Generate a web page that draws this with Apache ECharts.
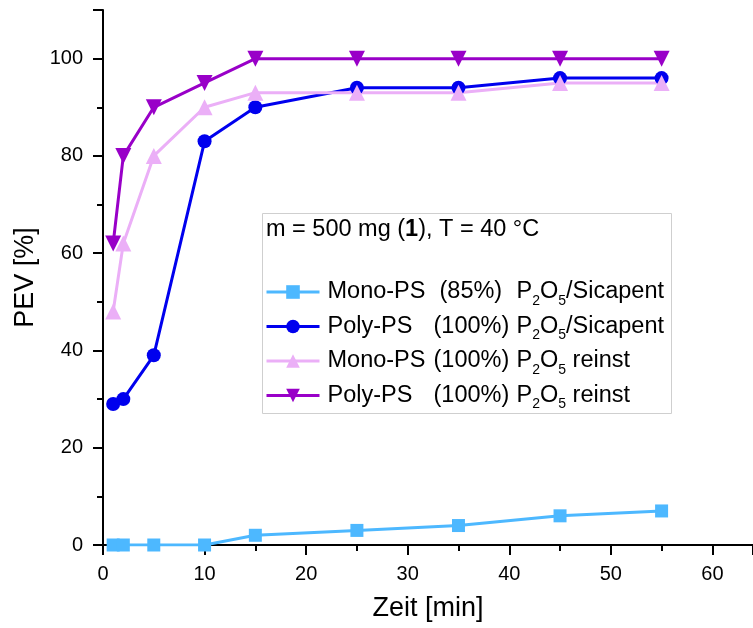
<!DOCTYPE html>
<html><head><meta charset="utf-8">
<script src="https://cdn.jsdelivr.net/npm/echarts@6/dist/echarts.min.js"></script>
<style>html,body{margin:0;padding:0;background:#fff}#c{width:753px;height:628px}</style>
</head><body><div id="c"></div>
<script>
const times = [1, 2, 5, 10, 15, 25, 35, 45, 55];
const monoSicapent = [0, 0, 0, 0, 2, 3, 4, 6, 7];
const polySicapent = [29, 30, 39, 83, 90, 94, 94, 96, 96];
const monoReinst = [48, 62, 80, 90, 93, 93, 93, 95, 95];
const polyReinst = [62, 80, 90, 95, 100, 100, 100, 100, 100];
const seriesNames = ['mono85', 'poly100s', 'mono100r', 'poly100r'];

const F = '"Liberation Sans", Arial, sans-serif';
const pair = (ys) => times.map((t, i) => [t, ys[i]]);

const labels = {
  mono85: '{n|Mono-PS}{q|(85%)}{t|P}{s|2}{t|O}{s|5}{t|/Sicapent}',
  poly100s: '{n|Poly-PS}{p|(100%)}{t|P}{s|2}{t|O}{s|5}{t|/Sicapent}',
  mono100r: '{n|Mono-PS}{p|(100%)}{t|P}{s|2}{t|O}{s|5}{t| reinst}',
  poly100r: '{n|Poly-PS}{p|(100%)}{t|P}{s|2}{t|O}{s|5}{t| reinst}'
};

function mk(name, data, color, symbol, size, rot) {
  return {
    name: name, type: 'line', data: pair(data), symbol: symbol, symbolSize: size,
    symbolRotate: rot || 0,
    lineStyle: { color: color, width: 3 },
    itemStyle: { color: color },
    z: 3
  };
}

const LH = 32;
const FS = 23.5;
const chart = echarts.init(document.getElementById('c'), null, { renderer: 'canvas' });
chart.setOption({
  animation: false,
  backgroundColor: '#fff',
  grid: { left: 103, top: 10, right: 0, bottom: 83, containLabel: false },
  xAxis: [{
    type: 'value', min: 0, max: 64, interval: 10,
    name: 'Zeit [min]', nameLocation: 'middle', nameGap: 50,
    nameTextStyle: { fontFamily: F, fontSize: 27, color: '#000' },
    axisLine: { show: true, onZero: false, lineStyle: { color: '#000', width: 2 } },
    axisTick: { show: true, inside: false, length: 10, lineStyle: { color: '#000', width: 2 } },
    minorTick: { show: true, splitNumber: 2, length: 6, lineStyle: { color: '#000', width: 2 } },
    axisLabel: { fontFamily: F, fontSize: 20, color: '#000', margin: 19, showMaxLabel: false },
    splitLine: { show: false }
  }, {
    type: 'value', min: 0, max: 64, position: 'top',
    axisLine: { show: true, lineStyle: { color: '#000', width: 2 } },
    axisTick: { show: false }, axisLabel: { show: false }, splitLine: { show: false }
  }],
  yAxis: {
    type: 'value', min: 0, max: 110, interval: 20,
    name: 'PEV [%]', nameLocation: 'middle', nameGap: 60, nameRotate: 90,
    nameTextStyle: { fontFamily: F, fontSize: 27, color: '#000' },
    axisLine: { show: true, onZero: false, lineStyle: { color: '#000', width: 2 } },
    axisTick: { show: true, inside: false, length: 10, lineStyle: { color: '#000', width: 2 } },
    minorTick: { show: true, splitNumber: 2, length: 6, lineStyle: { color: '#000', width: 2 } },
    axisLabel: { fontFamily: F, fontSize: 20, color: '#000', margin: 20, showMaxLabel: false },
    splitLine: { show: false }
  },
  legend: {
    orient: 'vertical', left: 265, top: 280, padding: 0, itemWidth: 53, itemHeight: 17, itemGap: 6.5,
    data: seriesNames,
    formatter: (n) => labels[n],
    lineStyle: { width: 3 },
    textStyle: {
      fontFamily: F, fontSize: FS, color: '#000', padding: [0, 0, 0, 3],
      rich: {
        n: { fontFamily: F, fontSize: FS, color: '#000', width: 106, lineHeight: LH },
        p: { fontFamily: F, fontSize: FS, color: '#000', width: 83, lineHeight: LH },
        q: { fontFamily: F, fontSize: FS, color: '#000', width: 77, padding: [0, 0, 0, 6], lineHeight: LH },
        t: { fontFamily: F, fontSize: FS, color: '#000', lineHeight: LH },
        s: { fontFamily: F, fontSize: 14, color: '#000', verticalAlign: 'bottom', lineHeight: 14 }
      }
    }
  },
  graphic: [
    { type: 'rect', left: 262, top: 213, z: 1, shape: { width: 409, height: 200 },
      style: { fill: '#fff', stroke: '#cfcfcf', lineWidth: 1 } },
    { type: 'text', left: 266, top: 218, z: 6,
      style: { text: '{a|m = 500 mg (}{b|1}{a|), T = 40 °C}',
        rich: { a: { fontFamily: F, fontSize: FS, fill: '#000' }, b: { fontFamily: F, fontSize: FS, fontWeight: 'bold', fill: '#000' } } } }
  ],
  series: [
    mk('mono85', monoSicapent, '#4db8ff', 'rect', 13),
    mk('poly100s', polySicapent, '#0000ee', 'circle', 14),
    mk('mono100r', monoReinst, '#ebaff7', 'triangle', 16),
    mk('poly100r', polyReinst, '#9900c8', 'triangle', 16, 180)
  ]
});
</script></body></html>
